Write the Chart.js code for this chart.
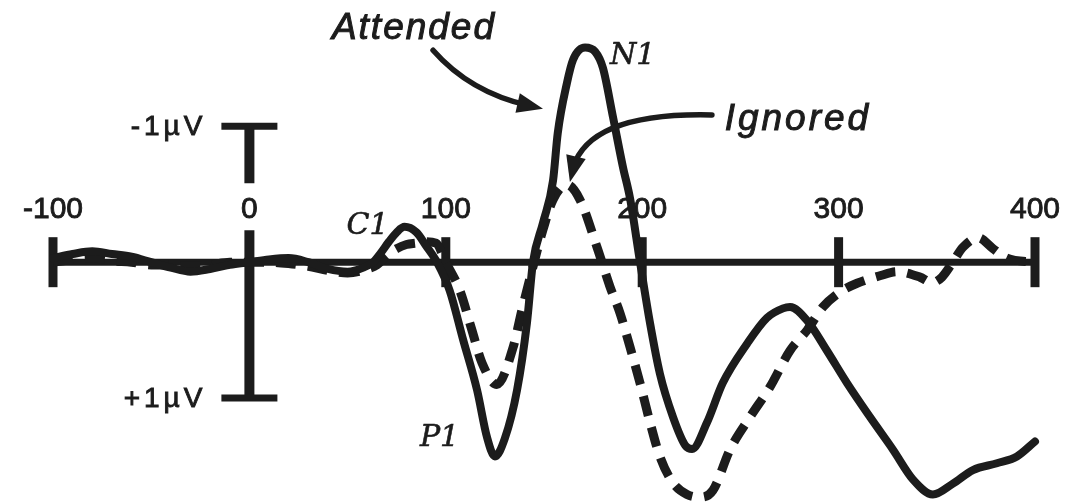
<!DOCTYPE html>
<html>
<head>
<meta charset="utf-8">
<script src="https://cdn.jsdelivr.net/npm/chart.js@4.4.1/dist/chart.umd.min.js"></script>
<style>
  html, body { margin: 0; padding: 0; background: #fff; }
  #wrap { width: 1068px; height: 504px; }
</style>
</head>
<body>
<div id="wrap"><canvas id="erp" width="1068" height="504"></canvas></div>
<script>
// time in ms, amplitude in µV (negative is drawn upward)
const attendedMs = [-100, -90, -80, -70, -60, -50, -40, -30, -20, -10, 0, 10, 20, 30, 40, 50, 58, 63, 67, 71, 75, 79, 85, 90, 95.5, 102, 108.8, 115.9, 121, 125, 130, 136.3, 141.3, 144.4, 149.5, 154.6, 157, 161.7, 164.8, 170.9, 176, 180, 185.1, 190.2, 193.8, 198.9, 204, 209, 215.7, 222, 225.4, 233, 241, 253.4, 263.5, 271.7, 275.3, 284, 294, 304.3, 316, 327.7, 337.9, 348, 358.2, 368.4, 380.6, 390.8, 400];
const attendedUv = [-0.03, -0.06, -0.08, -0.06, -0.04, 0.0, 0.04, 0.07, 0.05, 0.02, 0.0, -0.02, -0.03, 0.0, 0.05, 0.07, 0.04, 0.0, -0.07, -0.15, -0.22, -0.26, -0.22, -0.12, 0.0, 0.21, 0.57, 0.94, 1.29, 1.43, 1.3, 0.94, 0.45, 0.0, -0.29, -0.6, -0.95, -1.32, -1.49, -1.58, -1.55, -1.43, -1.07, -0.7, -0.47, 0.0, 0.45, 0.82, 1.14, 1.35, 1.375, 1.18, 0.89, 0.6, 0.41, 0.34, 0.33, 0.43, 0.65, 0.89, 1.14, 1.38, 1.6, 1.71, 1.63, 1.53, 1.48, 1.43, 1.32];

const ignoredMs = [-100, -90, -80, -70, -60, -50, -40, -30, -20, -10, 0, 10, 20, 30, 40, 50, 60, 65, 70, 75, 80, 85, 90, 95, 100, 107.2, 113.3, 118.4, 126, 134.2, 138.8, 143.9, 149.5, 154.6, 161.7, 168.3, 177, 183.6, 188.7, 193.8, 198.9, 204, 209, 215.7, 222.8, 229.4, 236, 244.7, 254.9, 265, 275.3, 284, 292, 300.7, 309.4, 321, 329.7, 341.4, 347.6, 352.6, 357.7, 363.3, 371, 378.6, 385.7, 400];
const ignoredUv = [0.0, -0.02, -0.03, -0.01, 0.0, 0.02, 0.02, 0.03, 0.02, 0.0, 0.0, 0.0, 0.01, 0.03, 0.06, 0.08, 0.05, 0.02, -0.05, -0.1, -0.13, -0.14, -0.15, -0.14, 0.0, 0.21, 0.5, 0.74, 0.9, 0.63, 0.35, 0.06, -0.24, -0.46, -0.57, -0.46, -0.11, 0.18, 0.375, 0.625, 0.89, 1.18, 1.43, 1.625, 1.71, 1.73, 1.68, 1.38, 1.14, 0.92, 0.65, 0.5, 0.33, 0.22, 0.155, 0.1, 0.07, 0.11, 0.15, 0.11, 0.01, -0.11, -0.18, -0.1, -0.03, 0.0];

const timeTicks = [-100, 0, 100, 200, 300, 400];
const calibUv = [-1, 1];
const calibLabels = ['-1µV', '+1µV'];

// named components on the attended wave
const peakNames = ['C1', 'P1', 'N1'];
const peakMs = [79, 125, 170.9];

const ink = '#1c1c1c';

function toPoints(ms, uv) {
  return ms.map((t, i) => ({ x: t, y: uv[i] }));
}

// filled text with a thin outline so it reads as heavy as the lines
function inkText(ctx, str, x, y) {
  ctx.fillText(str, x, y);
  ctx.strokeText(str, x, y);
}

function arrowHead(ctx, fromX, fromY, tipX, tipY, len, half) {
  const a = Math.atan2(tipY - fromY, tipX - fromX);
  ctx.beginPath();
  ctx.moveTo(tipX, tipY);
  ctx.lineTo(tipX - len * Math.cos(a) + half * Math.sin(a), tipY - len * Math.sin(a) - half * Math.cos(a));
  ctx.lineTo(tipX - len * Math.cos(a) - half * Math.sin(a), tipY - len * Math.sin(a) + half * Math.cos(a));
  ctx.closePath();
  ctx.fill();
}

// axis, ticks and the calibration bar
const erpFrame = {
  id: 'erpFrame',
  beforeDatasetsDraw(chart) {
    const { ctx, scales: { x, y } } = chart;
    const y0 = y.getPixelForValue(0);
    ctx.save();
    ctx.strokeStyle = ink;
    ctx.fillStyle = ink;

    ctx.lineWidth = 7;
    ctx.beginPath();
    ctx.moveTo(x.getPixelForValue(timeTicks[0]), y0);
    ctx.lineTo(x.getPixelForValue(timeTicks[timeTicks.length - 1]), y0);
    ctx.stroke();

    ctx.lineWidth = 9;
    timeTicks.forEach(t => {
      if (t === 0) return;
      const px = x.getPixelForValue(t);
      ctx.beginPath();
      ctx.moveTo(px, y0 - 25);
      ctx.lineTo(px, y0 + 25);
      ctx.stroke();
    });

    ctx.font = '30px "Liberation Sans", Arial, sans-serif';
    ctx.textAlign = 'center';
    ctx.textBaseline = 'alphabetic';
    ctx.lineWidth = 0.9;
    timeTicks.forEach(t => inkText(ctx, String(t), x.getPixelForValue(t), y0 - 44));

    const cx = x.getPixelForValue(0);
    const top = y.getPixelForValue(calibUv[0]);
    const bot = y.getPixelForValue(calibUv[1]);
    ctx.lineWidth = 10;
    ctx.beginPath();
    ctx.moveTo(cx, top);
    ctx.lineTo(cx, y0 - 79);
    ctx.moveTo(cx, y0 - 32);
    ctx.lineTo(cx, bot);
    ctx.stroke();
    ctx.lineWidth = 7;
    ctx.beginPath();
    ctx.moveTo(cx - 28, top);
    ctx.lineTo(cx + 28, top);
    ctx.moveTo(cx - 28, bot);
    ctx.lineTo(cx + 28, bot);
    ctx.stroke();

    ctx.font = '28px "Liberation Sans", Arial, sans-serif';
    ctx.letterSpacing = '4px';
    ctx.textAlign = 'right';
    ctx.lineWidth = 0.9;
    calibUv.forEach((v, i) => inkText(ctx, calibLabels[i], cx - 43, y.getPixelForValue(v) + 9));
    ctx.restore();
  },

  afterDatasetsDraw(chart) {
    const { ctx, scales: { x, y } } = chart;
    const px = t => x.getPixelForValue(t);
    const py = v => y.getPixelForValue(v);
    ctx.save();
    ctx.fillStyle = ink;
    ctx.strokeStyle = ink;

    // component names next to their peaks
    const offsets = { C1: [-58, 7], P1: [-75, -10], N1: [25, 16] };
    ctx.font = 'italic 30px "DejaVu Serif", "Liberation Serif", serif';
    ctx.textAlign = 'left';
    ctx.lineWidth = 0.6;
    peakNames.forEach((name, i) => {
      const t = peakMs[i];
      const v = attendedUv[attendedMs.indexOf(t)];
      inkText(ctx, name, px(t) + offsets[name][0], py(v) + offsets[name][1]);
    });

    // condition labels with arrows
    ctx.font = 'italic 37px "Liberation Sans", Arial, sans-serif';
    ctx.lineWidth = 1;
    ctx.letterSpacing = '2px';
    inkText(ctx, 'Attended', px(42), py(-1.64));
    ctx.letterSpacing = '3px';
    inkText(ctx, 'Ignored', px(242), py(-0.97));
    ctx.letterSpacing = '0px';

    ctx.lineWidth = 5.5;
    ctx.lineCap = 'round';
    let s = [px(93.5), py(-1.56)], c = [px(112.3), py(-1.25)], e = [px(149.5), py(-1.13)];
    ctx.beginPath();
    ctx.moveTo(s[0], s[1]);
    ctx.quadraticCurveTo(c[0], c[1], e[0] - 14, e[1] - 3);
    ctx.stroke();
    arrowHead(ctx, c[0], c[1], e[0], e[1], 26, 10);

    s = [px(235.5), py(-1.084)]; c = [px(173.4), py(-1.105)]; e = [px(163.2), py(-0.591)];
    ctx.beginPath();
    ctx.moveTo(s[0], s[1]);
    ctx.quadraticCurveTo(c[0], c[1], e[0] + 3, e[1] - 14);
    ctx.stroke();
    arrowHead(ctx, px(166), py(-0.76), e[0], e[1], 26, 10);
    ctx.restore();
  }
};

new Chart(document.getElementById('erp').getContext('2d'), {
  type: 'line',
  data: {
    datasets: [{
      label: 'Attended',
      data: toPoints(attendedMs, attendedUv),
      borderColor: ink,
      borderWidth: 8,
      cubicInterpolationMode: 'monotone',
      borderCapStyle: 'round',
      borderJoinStyle: 'round',
      pointRadius: 0,
      fill: false,
      clip: false
    }, {
      label: 'Ignored',
      data: toPoints(ignoredMs, ignoredUv),
      borderColor: ink,
      borderWidth: 9,
      borderDash: [20, 12],
      cubicInterpolationMode: 'monotone',
      borderJoinStyle: 'round',
      pointRadius: 0,
      fill: false,
      clip: false
    }]
  },
  options: {
    responsive: false,
    animation: false,
    layout: { padding: { left: 53, right: 33, top: 0, bottom: 0 } },
    plugins: {
      legend: { display: false },
      tooltip: { enabled: false }
    },
    scales: {
      x: { type: 'linear', min: -100, max: 400, display: false },
      y: { type: 'linear', reverse: true, min: -1.93, max: 1.78, display: false }
    }
  },
  plugins: [erpFrame]
});
</script>
</body>
</html>
